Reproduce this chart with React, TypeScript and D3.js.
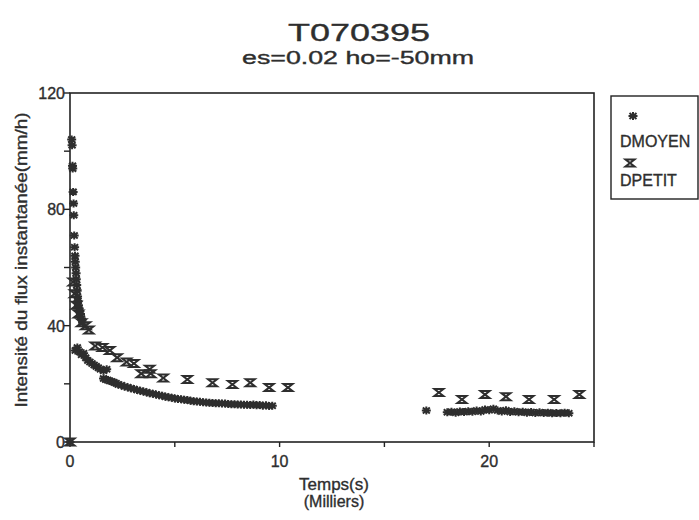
import React from "react";
import * as d3 from "d3";

// ---- data (time in thousands of seconds, intensity in mm/h) ----
const dmoyenT = [
  0, 0.08, 0.1, 0.12, 0.13, 0.15, 0.17, 0.18, 0.2, 0.22, 0.24, 0.25, 0.27, 0.29, 0.3, 0.32, 0.34, 0.36, 0.38, 0.4, 0.43, 0.46, 0.5, 0.55, 0.6,
  0.25, 0.35, 0.45, 0.55, 0.65, 0.75, 0.85, 0.95, 1.05, 1.15, 1.25, 1.35, 1.45, 1.6, 1.75,
  1.6, 1.7, 1.8, 1.9, 2.0, 2.1, 2.2, 2.3, 2.45, 2.6, 2.75, 2.9, 3.05, 3.2, 3.35, 3.5, 3.65, 3.8, 3.95, 4.1, 4.25, 4.4, 4.55, 4.7, 4.85,
  5.0, 5.15, 5.3, 5.45, 5.6, 5.75, 5.9, 6.05, 6.2, 6.35, 6.5, 6.65, 6.8, 6.95, 7.1, 7.25, 7.4, 7.55, 7.7, 7.85, 8.0, 8.15, 8.3, 8.45,
  8.6, 8.75, 8.9, 9.05, 9.2, 9.35, 9.5, 9.65,
  17.0, 18.0, 18.2, 18.4, 18.6, 18.8, 19.0, 19.2, 19.4, 19.6, 19.8, 20.0, 20.2, 20.4, 20.6, 20.8, 21.0, 21.2, 21.4, 21.6, 21.8, 22.0,
  22.2, 22.4, 22.6, 22.8, 23.0, 23.2, 23.4, 23.6, 23.8,
];
const dmoyenV = [
  0, 104, 102, 95, 94, 86, 82, 78, 71, 67, 64, 62, 60, 58, 56, 54, 52, 50, 48.5, 47, 46, 45, 44, 42.5, 41,
  31.5, 32.5, 31, 30, 30.5, 29, 28, 27.5, 27, 26.5, 26, 25.5, 25, 24.5, 25,
  21.8, 21.5, 21.3, 21, 20.8, 20.5, 20.2, 19.8, 19.5, 19.1, 18.8, 18.5, 18.2, 17.9, 17.6, 17.4, 17.1, 16.8, 16.6, 16.3, 16.1, 15.9, 15.6, 15.4, 15.2,
  15.0, 14.8, 14.7, 14.5, 14.4, 14.2, 14.0, 13.9, 13.8, 13.7, 13.6, 13.5, 13.4, 13.3, 13.3, 13.2, 13.2, 13.1, 13.0, 13.0, 12.9, 12.9, 12.8, 12.8,
  12.7, 12.9, 12.6, 12.7, 12.5, 12.6, 12.4, 12.5,
  10.8, 10.2, 10.4, 10.1, 10.5, 10.3, 10.6, 10.4, 10.8, 10.5, 11.2, 10.9, 11.4, 10.8, 10.5, 10.9, 10.3, 10.6, 10.2, 10.4, 10.1, 10.3,
  10.0, 10.2, 10.0, 10.1, 9.9, 10.0, 9.9, 10.1, 9.9,
];
const dpetitT = [
  0, 0.15, 0.22, 0.3, 0.4, 0.55, 0.75, 0.9, 1.2, 1.55, 1.9, 2.25, 2.7, 3.05, 3.4, 3.8, 3.85, 4.45, 5.6, 6.8, 7.75, 8.6, 9.5, 10.4,
  17.6, 18.7, 19.8, 20.8, 21.9, 23.1, 24.3,
];
const dpetitV = [
  0, 55, 51, 47, 44, 41, 40, 38.5, 33, 32.5, 31.5, 29, 27.5, 27, 23.5, 25, 23.5, 22, 21.5, 20.4, 19.8, 20.4, 18.7, 18.7,
  17, 14.6, 16.3, 15.6, 14.6, 14.6, 16.3,
];
const seriesNames = ["DMOYEN", "DPETIT"];
const yTicks = [0, 20, 40, 60, 80, 100, 120];
const yTickLabels = ["0", "", "40", "", "80", "", "120"];
const xTicks = [0, 5, 10, 15, 20, 25];
const xTickLabels = ["0", "", "10", "", "20", ""];
const title = "T070395";
const subtitle = "es=0.02 ho=-50mm";
const xTitle1 = "Temps(s)";
const xTitle2 = "(Milliers)";
const yTitle = "Intensité du flux instantanée(mm/h)";

const W = 699;
const H = 520;
const INK = "#2e2e2e";
const FONT = "'Liberation Sans', Arial, Helvetica, sans-serif";

const x = d3.scaleLinear().domain([0, 25]).range([70, 594]);
const y = d3.scaleLinear().domain([0, 120]).range([442, 93]);

const asteriskPath = "M0,-4V4M-4.5,0H4.5M-3.5,-3L3.5,3M-3.5,3L3.5,-3";
const hourglassPath = "M-4.5,-3.5H4.5L-4.5,3.5H4.5Z";

function Asterisk({ cx, cy }: { cx: number; cy: number }) {
  return <path d={asteriskPath} transform={`translate(${cx},${cy})`} fill="none" stroke={INK} strokeWidth={2} />;
}
function Hourglass({ cx, cy }: { cx: number; cy: number }) {
  return <path d={hourglassPath} transform={`translate(${cx},${cy})`} fill="none" stroke={INK} strokeWidth={2} strokeLinejoin="miter" />;
}

const textStyle = { stroke: INK, strokeWidth: 0.35 } as const;

export default function App() {
  const [x0, x1] = x.range();
  const [y0, y1] = y.range();
  return (
    <svg width={W} height={H} style={{ position: "absolute", left: 0, top: 0, background: "#fff" }} fontFamily={FONT}>
      <rect x={0} y={0} width={W} height={H} fill="#fff" />
      {/* titles */}
      <text x={359} y={41} textAnchor="middle" fontSize={24} fill={INK} style={textStyle} textLength={142} lengthAdjust="spacingAndGlyphs">{title}</text>
      <text x={358} y={64} textAnchor="middle" fontSize={18} fill={INK} style={textStyle} textLength={232} lengthAdjust="spacingAndGlyphs">{subtitle}</text>

      {/* frame */}
      <rect x={x0} y={y1} width={x1 - x0} height={y0 - y1} fill="none" stroke="#222" strokeWidth={1.6} />

      {/* y ticks */}
      {yTicks.map((t, i) => (
        <g key={"y" + t}>
          <line x1={x0 - 6} x2={x0} y1={y(t)} y2={y(t)} stroke="#222" strokeWidth={1.4} />
          {yTickLabels[i] && (
            <text x={x0 - 5} y={y(t) + 6} textAnchor="end" fontSize={16} fill={INK} style={textStyle}>{yTickLabels[i]}</text>
          )}
        </g>
      ))}
      {/* x ticks */}
      {xTicks.map((t, i) => (
        <g key={"x" + t}>
          <line x1={x(t)} x2={x(t)} y1={y0} y2={y0 + 5} stroke="#222" strokeWidth={1.4} />
          {xTickLabels[i] && (
            <text x={x(t)} y={y0 + 25} textAnchor="middle" fontSize={16} fill={INK} style={textStyle}>{xTickLabels[i]}</text>
          )}
        </g>
      ))}

      {/* axis titles */}
      <text x={334} y={490} textAnchor="middle" fontSize={17} fill={INK} style={textStyle}>{xTitle1}</text>
      <text x={334} y={507} textAnchor="middle" fontSize={16} fill={INK} style={textStyle}>{xTitle2}</text>
      <text transform="translate(27,260) rotate(-90)" textAnchor="middle" fontSize={17} fill={INK} style={textStyle} textLength={295} lengthAdjust="spacingAndGlyphs">{yTitle}</text>

      {/* data */}
      {dpetitT.map((t, i) => (
        <Hourglass key={"p" + i} cx={x(t)} cy={y(dpetitV[i])} />
      ))}
      {dmoyenT.map((t, i) => (
        <Asterisk key={"m" + i} cx={x(t)} cy={y(dmoyenV[i])} />
      ))}

      {/* legend */}
      <rect x={611} y={96} width={87} height={103} fill="#fff" stroke="#222" strokeWidth={1.4} />
      <Asterisk cx={633} cy={116} />
      <text x={620} y={147} fontSize={16} fill={INK} style={textStyle}>{seriesNames[0]}</text>
      <Hourglass cx={630} cy={163} />
      <text x={620} y={186} fontSize={16} fill={INK} style={textStyle}>{seriesNames[1]}</text>
    </svg>
  );
}
